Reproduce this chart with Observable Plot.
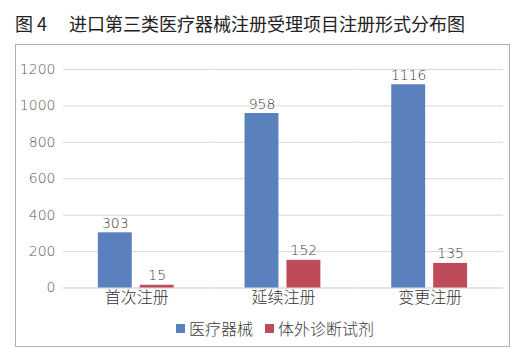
<!DOCTYPE html>
<html><head><meta charset="utf-8">
<script src="https://cdn.jsdelivr.net/npm/d3@7"></script>
<script src="https://cdn.jsdelivr.net/npm/@observablehq/plot@0.6"></script>
<style>
html,body{margin:0;padding:0;background:#fff;}
body{width:529px;height:359px;position:relative;font-family:"Noto Sans CJK SC","Noto Sans",sans-serif;}
#title{position:absolute;left:15px;top:0;height:44px;line-height:46px;font-size:18px;color:#222;white-space:pre;}
#box{position:absolute;left:15px;top:44px;width:493px;height:301px;border:1.5px solid #b0b0b0;box-sizing:content-box;}
#chart{position:absolute;left:0;top:0;}
#legend{position:absolute;left:160px;top:271px;display:flex;align-items:center;font-size:16px;color:#404040;font-weight:300;}
.sw{display:inline-block;width:9px;height:9px;margin-right:4px;}
.item{display:flex;align-items:center;margin-right:12px;}
</style></head>
<body>
<div id="title"></div>
<div id="box"><div id="chart"></div><div id="legend"></div></div>
<script>
const titleText = "图 4　 进口第三类医疗器械注册受理项目注册形式分布图";
const categories = ["首次注册", "延续注册", "变更注册"];
const series = ["医疗器械", "体外诊断试剂"];
const deviceValues = [303, 958, 1116];
const ivdValues = [15, 152, 135];
const yTicks = [0, 200, 400, 600, 800, 1000, 1200];
const colors = ["#5A81BE", "#BE4B5A"];

document.getElementById("title").textContent = titleText;

const data = [];
categories.forEach((c, i) => {
  data.push({category: c, series: series[0], value: deviceValues[i]});
  data.push({category: c, series: series[1], value: ivdValues[i]});
});

const numFont = '"DejaVu Sans", sans-serif';
const chart = Plot.plot({
  width: 494, height: 270,
  marginTop: 24, marginBottom: 27, marginLeft: 46, marginRight: 6,
  style: {fontFamily: '"Noto Sans CJK SC", sans-serif', fontSize: "16px", color: "#595959", background: "transparent", fontWeight: 300},
  fx: {domain: categories, padding: 0, label: null, axis: "bottom", tickSize: 0, tickPadding: 4},
  x: {domain: series, axis: null, paddingInner: 0.19, paddingOuter: 0.845},
  y: {domain: [0, 1200], ticks: yTicks, tickFormat: d3.format("d"), label: null, tickSize: 0, tickPadding: 8},
  color: {domain: series, range: colors},
  marks: [
    Plot.ruleY(yTicks.filter(t => t > 0), {stroke: "#d9d9d9", strokeWidth: 1}),
    Plot.ruleY([0], {stroke: "#c8c8c8", strokeWidth: 1}),
    Plot.barY(data, {fx: "category", x: "series", y: "value", fill: "series"}),
    Plot.text(data, {fx: "category", x: "series", y: "value", text: d => String(d.value), lineAnchor: "bottom", dy: -5, fill: "#404040", fontSize: 14, fontFamily: numFont, fontWeight: 200})
  ]
});
document.getElementById("chart").appendChild(chart);
d3.select(chart).selectAll("g[aria-label='y-axis tick label']").attr("font-family", numFont).attr("font-size", 14).attr("font-weight", 200);
d3.select(chart).selectAll("g[aria-label='fx-axis tick label']").attr("fill", "#333");

const legend = document.getElementById("legend");
series.forEach((s, i) => {
  const it = document.createElement("div");
  it.className = "item";
  const sw = document.createElement("span");
  sw.className = "sw";
  sw.style.background = colors[i];
  const tx = document.createElement("span");
  tx.textContent = s;
  it.appendChild(sw); it.appendChild(tx);
  legend.appendChild(it);
});
</script>
</body></html>
